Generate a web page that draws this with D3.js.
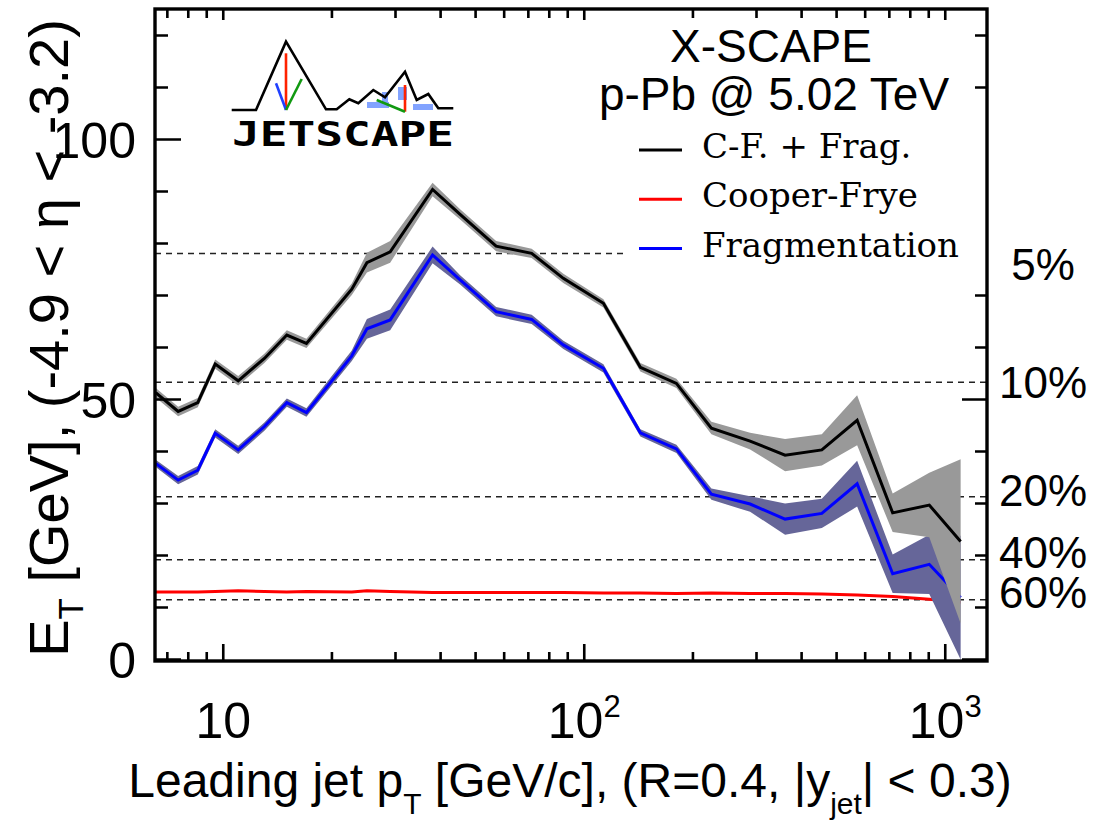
<!DOCTYPE html>
<html>
<head>
<meta charset="utf-8">
<script src="https://cdn.jsdelivr.net/npm/d3@7"></script>
<style>
body { margin: 0; background: #fff; }
svg { display: block; font-family: "Liberation Sans", Arial, sans-serif; }
</style>
</head>
<body>
<svg id="chart" width="1097" height="824"></svg>
<script>
// leading jet pT bins (GeV/c)
var ptBins = [6.5, 7.5, 8.5, 9.5, 11, 13, 15, 17, 22.7, 25, 29, 38, 45.3, 57, 71.5, 87.5,
    113, 143, 180, 225, 288, 360, 455, 570, 715, 903, 1103];

// E_T in the Pb-going forward calorimeter
var etTotal = [51.3, 47.7, 49.4, 56.8, 53.6, 57.9, 62.4, 60.8, 71.2, 76.3, 78.4, 90.4, 85.6, 79.5, 78.1, 73.3,
    68.5, 56.2, 53.1, 44.5, 42.0, 39.3, 40.3, 46.0, 28.2, 29.7, 22.7];
var etTotalErr = [0.9, 0.9, 0.9, 0.9, 0.9, 0.9, 0.9, 0.9, 1.1, 1.9, 2.1, 1.3, 1.0, 1.0, 0.9, 0.9,
    0.8, 0.8, 0.9, 1.2, 1.6, 3.1, 3.0, 4.8, 3.7, 6.2, 15.8];
var etFrag = [37.7, 34.5, 36.4, 43.5, 40.3, 44.8, 49.4, 47.5, 58.4, 63.6, 65.3, 77.8, 73.0, 66.9, 65.4, 60.5,
    56.0, 43.6, 40.5, 31.8, 29.9, 27.0, 28.1, 33.8, 16.5, 18.3, 11.9];
var etFragErr = [0.7, 0.8, 0.8, 0.8, 0.8, 0.8, 0.8, 0.8, 1.0, 1.9, 2.0, 1.6, 0.9, 0.9, 0.9, 0.8,
    0.8, 0.7, 0.8, 1.1, 1.5, 3.0, 2.8, 4.4, 3.7, 5.7, 11.9];
var etCooperFrye = [13.0, 13.0, 13.0, 13.1, 13.2, 13.1, 13.0, 13.1, 13.0, 13.2, 13.1, 12.9, 12.9, 12.9, 12.9, 12.9,
    12.8, 12.8, 12.7, 12.8, 12.7, 12.7, 12.6, 12.4, 12.1, 11.6, 11.0];

// centrality classes (dashed lines)
var centralityNames = ["5%", "10%", "20%", "40%", "60%"];
var centralityEt = [78.1, 53.3, 31.3, 19.2, 11.5];

var xMajorTicks = [10, 100, 1000];
var xMinorTicks = [7, 8, 9, 20, 30, 40, 50, 60, 70, 80, 90, 200, 300, 400, 500, 600, 700, 800, 900];
var yMajorTicks = [0, 50, 100];
var yMinorTicks = [10, 20, 30, 40, 60, 70, 80, 90, 110, 120];

var legendNames = ["C-F. + Frag.", "Cooper-Frye", "Fragmentation"];
var legendColors = ["#000000", "#ff0000", "#0000ff"];

var frameL = 155, frameR = 987, frameT = 9, frameB = 661;
var boxL = 625, boxT = 115, boxB = 275;

var svg = d3.select("#chart");
var x = d3.scaleLog().domain([6.47, 1305]).range([frameL, frameR]);
var y = d3.scaleLinear().domain([0, 125]).range([659.5, 9.5]);

svg.append("defs").append("clipPath").attr("id", "plotclip")
    .append("rect")
    .attr("x", frameL).attr("y", frameT)
    .attr("width", frameR - frameL).attr("height", frameB - frameT);

var plot = svg.append("g").attr("clip-path", "url(#plotclip)");

// dashed centrality lines
plot.selectAll(".cent")
    .data(centralityEt)
    .enter().append("line")
    .attr("class", "cent")
    .attr("x1", frameL).attr("x2", frameR)
    .attr("y1", function (d) { return y(d); })
    .attr("y2", function (d) { return y(d); })
    .attr("stroke", "#222")
    .attr("stroke-width", 1.5)
    .attr("stroke-dasharray", "6,5");

function series(vals) {
    return ptBins.map(function (p, i) { return { pt: p, v: vals[i] }; });
}
function band(vals, errs) {
    return ptBins.map(function (p, i) { return { pt: p, lo: vals[i] - errs[i], hi: vals[i] + errs[i] }; });
}

var line = d3.line()
    .x(function (d) { return x(d.pt); })
    .y(function (d) { return y(d.v); });
var area = d3.area()
    .x(function (d) { return x(d.pt); })
    .y0(function (d) { return y(d.lo); })
    .y1(function (d) { return y(d.hi); });

// drawing order: red, blue band, blue line, gray band, black line
plot.append("path").datum(series(etCooperFrye))
    .attr("d", line)
    .attr("fill", "none").attr("stroke", "#ff0000").attr("stroke-width", 3);

plot.append("path").datum(band(etFrag, etFragErr))
    .attr("d", area)
    .attr("fill", "#666699");
plot.append("path").datum(series(etFrag))
    .attr("d", line)
    .attr("fill", "none").attr("stroke", "#0000ff").attr("stroke-width", 3);

plot.append("path").datum(band(etTotal, etTotalErr))
    .attr("d", area)
    .attr("fill", "#999999");
plot.append("path").datum(series(etTotal))
    .attr("d", line)
    .attr("fill", "none").attr("stroke", "#000").attr("stroke-width", 3);

// legend box hides what is under it
svg.append("rect")
    .attr("x", boxL).attr("y", boxT)
    .attr("width", frameR - boxL).attr("height", boxB - boxT)
    .attr("fill", "#fff");

// ticks pointing into the frame, positions from the scales
var tickSegs = [];
xMajorTicks.forEach(function (d) {
    tickSegs.push([x(d), frameB, x(d), frameB - 17]);
    tickSegs.push([x(d), frameT, x(d), frameT + 11]);
});
xMinorTicks.forEach(function (d) {
    tickSegs.push([x(d), frameB, x(d), frameB - 9]);
    tickSegs.push([x(d), frameT, x(d), frameT + 9]);
});
yMajorTicks.forEach(function (d) {
    tickSegs.push([frameL, y(d), frameL + 26, y(d)]);
    if (y(d) < boxT || y(d) > boxB) tickSegs.push([frameR, y(d), frameR - 25, y(d)]);
});
yMinorTicks.forEach(function (d) {
    tickSegs.push([frameL, y(d), frameL + 13, y(d)]);
    if (y(d) < boxT || y(d) > boxB) tickSegs.push([frameR, y(d), frameR - 12, y(d)]);
});
svg.append("path")
    .attr("d", tickSegs.map(function (s) { return "M" + s[0] + "," + s[1] + "L" + s[2] + "," + s[3]; }).join(""))
    .attr("fill", "none")
    .attr("stroke", "#000")
    .attr("stroke-width", 2.6);

var legend = svg.selectAll(".legend")
    .data(legendNames)
    .enter().append("g")
    .attr("class", "legend")
    .attr("transform", function (d, i) { return "translate(639," + (150 + i * 49.3) + ")"; });
legend.append("line")
    .attr("x1", 0).attr("x2", 43)
    .attr("stroke", function (d, i) { return legendColors[i]; })
    .attr("stroke-width", 3);
legend.append("text")
    .attr("x", 63).attr("y", 8)
    .style("font-family", "'DejaVu Serif', serif")
    .style("font-size", "34px")
    .text(function (d) { return d; });

// frame
svg.append("rect")
    .attr("x", frameL).attr("y", frameT)
    .attr("width", frameR - frameL).attr("height", frameB - frameT)
    .attr("fill", "none").attr("stroke", "#000").attr("stroke-width", 3.4);

// tick labels
svg.selectAll(".ylab")
    .data(yMajorTicks)
    .enter().append("text")
    .attr("class", "ylab")
    .attr("x", 136)
    .attr("y", function (d) { return y(d) + 18; })
    .attr("text-anchor", "end")
    .style("font-size", "50px")
    .text(function (d) { return d; });

var xlab = svg.selectAll(".xlab")
    .data(xMajorTicks)
    .enter().append("text")
    .attr("class", "xlab")
    .attr("x", function (d) { return x(d); })
    .attr("y", 738)
    .attr("text-anchor", "middle")
    .style("font-size", "50px");
xlab.append("tspan").text("10");
xlab.append("tspan")
    .attr("dy", -21)
    .style("font-size", "31px")
    .text(function (d) { return d == 10 ? "" : Math.round(Math.log10(d)); });

// percentile labels on the right
var pctNudge = [27, 16, 9, 8, 8];
svg.selectAll(".pct")
    .data(centralityNames)
    .enter().append("text")
    .attr("class", "pct")
    .attr("x", 1043)
    .attr("y", function (d, i) { return y(centralityEt[i]) + pctNudge[i]; })
    .attr("text-anchor", "middle")
    .style("font-size", "44px")
    .text(function (d) { return d; });

// axis titles
var xt = svg.append("text")
    .attr("x", 570).attr("y", 797)
    .attr("text-anchor", "middle")
    .style("font-size", "48px");
xt.append("tspan").text("Leading jet p");
xt.append("tspan").attr("dy", 17).style("font-size", "30px").text("T");
xt.append("tspan").attr("dy", -17).text(" [GeV/c], (R=0.4, |y");
xt.append("tspan").attr("dy", 17).style("font-size", "30px").text("jet");
xt.append("tspan").attr("dy", -17).text("| < 0.3)");

var yt = svg.append("text")
    .attr("transform", "translate(68,338) rotate(-90)")
    .attr("text-anchor", "middle")
    .style("font-size", "56px");
yt.append("tspan").text("E");
yt.append("tspan").attr("dy", 15).style("font-size", "35px").text("T");
yt.append("tspan").attr("dy", -15).text(" [GeV], (-4.9 < \u03b7 < -3.2)");

// header
svg.append("text").attr("x", 771).attr("y", 62)
    .attr("text-anchor", "middle").style("font-size", "46px").text("X-SCAPE");
svg.append("text").attr("x", 774).attr("y", 110)
    .attr("text-anchor", "middle").style("font-size", "46px").text("p-Pb @ 5.02 TeV");

// JETSCAPE logo
var logo = svg.append("g").attr("transform", "translate(230,40)");
var logoLine = d3.line();
var outline = [[1.7, 70], [26, 70], [56, 1.7], [96, 69.3], [106.7, 69.3], [119.3, 59.3], [128.3, 63.3],
    [143.3, 50], [155, 57.3], [175, 31.7], [186.7, 60], [198.3, 54], [208.3, 68.3], [223.3, 68.3]];
[[137, 62, 22, 6], [168, 47, 9, 13], [152, 52, 6, 10], [183, 64, 20, 6]].forEach(function (r) {
    logo.append("rect").attr("x", r[0]).attr("y", r[1]).attr("width", r[2]).attr("height", r[3])
        .attr("fill", "#4d7cff").attr("opacity", 0.7);
});
logo.append("path").attr("d", logoLine(outline))
    .attr("fill", "none").attr("stroke", "#000").attr("stroke-width", 2.6);
[
    [[[56, 13.3], [56, 70]], "#ff2200"],
    [[[46, 43.3], [56, 70]], "#2040ff"],
    [[[56, 70], [71.7, 39]], "#119911"],
    [[[175, 45], [175, 71.7]], "#ff2200"],
    [[[146.7, 60], [175, 71.7]], "#119911"]
].forEach(function (s) {
    logo.append("path").attr("d", logoLine(s[0]))
        .attr("fill", "none").attr("stroke", s[1]).attr("stroke-width", 2.6);
});
logo.append("text")
    .attr("x", 2).attr("y", 106)
    .attr("textLength", 222).attr("lengthAdjust", "spacingAndGlyphs")
    .style("font-family", "'DejaVu Sans Mono', monospace")
    .style("font-weight", "bold")
    .style("font-size", "33px")
    .text("JETSCAPE");
</script>
</body>
</html>
